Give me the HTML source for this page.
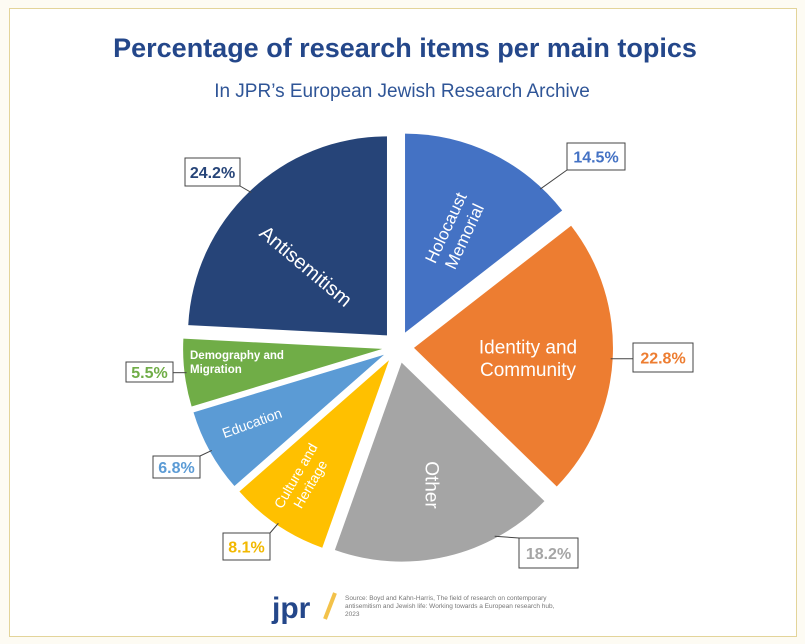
<!DOCTYPE html>
<html><head><meta charset="utf-8"><style>
html,body{margin:0;padding:0;background:#fdfbf3;}
body{width:805px;height:644px;position:relative;overflow:hidden;font-family:"Liberation Sans",sans-serif;}
#frame{position:absolute;left:9px;top:8px;width:786px;height:627px;border:1px solid #e3d49a;background:#fff;}
</style></head><body>
<div id="frame"></div>
<svg id="chart" width="805" height="644" style="position:absolute;left:0;top:0">
<text x="405" y="57" text-anchor="middle" font-size="27" font-weight="bold" fill="#24478a">Percentage of research items per main topics</text>
<text x="402" y="97" text-anchor="middle" font-size="19" fill="#2f5597">In JPR’s European Jewish Research Archive</text>
<g id="slices"></g><g id="labels"></g>
<text x="272" y="618" font-size="30" font-weight="bold" fill="#24478a">jpr</text>
<line x1="335" y1="593" x2="325" y2="619" stroke="#f3c24a" stroke-width="4"/>
<text x="345" y="600" font-size="6.5" fill="#777">Source: Boyd and Kahn-Harris, The field of research on contemporary</text>
<text x="345" y="608" font-size="6.5" fill="#777">antisemitism and Jewish life: Working towards a European research hub,</text>
<text x="345" y="616" font-size="6.5" fill="#777">2023</text>
</svg>
<script>
const categories=["Holocaust Memorial","Identity and Community","Other","Culture and Heritage","Education","Demography and Migration","Antisemitism"];
const values=[14.5,22.8,18.2,8.1,6.8,5.5,24.2];
const valueLabels=["14.5%","22.8%","18.2%","8.1%","6.8%","5.5%","24.2%"];
const colors=["#4472c4","#ed7d31","#a5a5a5","#ffc000","#5b9bd5","#70ad47","#264478"];
const labelColors=["#4472c4","#ed7d31","#a5a5a5","#f2b800","#5b9bd5","#70ad47","#264478"];
const NS="http://www.w3.org/2000/svg";
const cx=398,cy=347,R=199,off=16;
const total=values.reduce((a,b)=>a+b,0);
function pt(a,r,ox,oy){return [ox+r*Math.sin(a),oy-r*Math.cos(a)];}
const sg=document.getElementById('slices'),lg=document.getElementById('labels');
const boxes=[[567,143,58,27],[633,343,60,29],[519,538,59,30],[223,533,47,27],[153,456,47,22],[126,362,47,20],[185,158,55,28]];
const attach=[0.83,0.5,0.27,0.5,0.5,0.5,0.5];
const inner=[
 {x:455,y:232,rot:-65,size:17,lines:["Holocaust","Memorial"]},
 {x:528,y:358,rot:0,size:19,lines:["Identity and","Community"]},
 {x:432,y:485,rot:90,size:19,lines:["Other"]},
 {x:303,y:480,rot:-60,size:14,lines:["Culture and","Heritage"]},
 {x:252,y:423,rot:-20,size:14,lines:["Education"]},
 {x:190,y:362,rot:0,size:11.5,lines:["Demography and","Migration"],anchor:"start"},
 {x:306,y:266,rot:40,size:20,lines:["Antisemitism"]}];
let acc=0;
values.forEach((v,i)=>{
 const a0=acc/total*2*Math.PI;acc+=v;const a1=acc/total*2*Math.PI;const am=(a0+a1)/2;
 const [ox,oy]=pt(am,off,cx,cy);
 const p0=pt(a0,R,ox,oy),p1=pt(a1,R,ox,oy);
 const path=document.createElementNS(NS,'path');
 path.setAttribute('d',`M${ox},${oy}L${p0[0]},${p0[1]}A${R},${R} 0 ${a1-a0>Math.PI?1:0} 1 ${p1[0]},${p1[1]}Z`);
 path.setAttribute('fill',colors[i]);
 
 
 sg.appendChild(path);
 const b=boxes[i];const aa=a0+(a1-a0)*attach[i];const ep=pt(aa,R-2,ox,oy);
 const bx=Math.max(b[0],Math.min(b[0]+b[2],ep[0])),by=Math.max(b[1],Math.min(b[1]+b[3],ep[1]));
 const ln=document.createElementNS(NS,'line');
 ln.setAttribute('x1',ep[0]);ln.setAttribute('y1',ep[1]);ln.setAttribute('x2',bx);ln.setAttribute('y2',by);
 ln.setAttribute('stroke','#444');ln.setAttribute('stroke-width','1');
 
 
 lg.appendChild(ln);
 const rc=document.createElementNS(NS,'rect');
 rc.setAttribute('x',b[0]);rc.setAttribute('y',b[1]);rc.setAttribute('width',b[2]);rc.setAttribute('height',b[3]);
 rc.setAttribute('fill','#fff');rc.setAttribute('stroke','#444');
 
 
 lg.appendChild(rc);
 const t=document.createElementNS(NS,'text');
 t.setAttribute('x',b[0]+b[2]/2);t.setAttribute('y',b[1]+b[3]/2+6);t.setAttribute('text-anchor','middle');
 t.setAttribute('font-size','16');t.setAttribute('font-weight','bold');t.setAttribute('fill',labelColors[i]);
 t.textContent=valueLabels[i];
 
 
 lg.appendChild(t);
 const c=inner[i];
 const g=document.createElementNS(NS,'text');
 g.setAttribute('transform',`translate(${c.x},${c.y}) rotate(${c.rot})`);
 g.setAttribute('text-anchor',c.anchor||'middle');g.setAttribute('fill','#fff');g.setAttribute('font-size',c.size);
 g.setAttribute('font-weight',c.size<13?'bold':'normal');
 
 
 const n=c.lines.length;
 c.lines.forEach((s,k)=>{const sp=document.createElementNS(NS,'tspan');sp.setAttribute('x',0);
  sp.setAttribute('y',(k-(n-1)/2)*c.size*1.2+c.size*0.35);sp.textContent=s;g.appendChild(sp);});
 lg.appendChild(g);
});
</script>
</body></html>
